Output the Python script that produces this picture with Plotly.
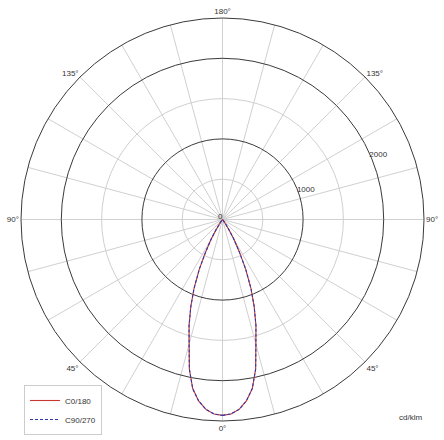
import plotly.graph_objects as go

# angulos gama (graus a partir do nadir) e intensidades em cd/klm
gama = [0, 2.5, 5, 7.5, 10, 12.5, 15, 17.5, 20, 22.5, 25, 27.5, 30, 32.5, 35, 40, 45,
        50, 60, 70, 80, 90, 105, 120, 135, 150, 165, 180]
c0_180 = [2430, 2415, 2365, 2270, 2130, 1900, 1600, 1380, 1150, 920, 680, 450, 280, 150, 60, 10, 0,
          0, 0, 0, 0, 0, 0, 0, 0, 0, 0, 0]
c90_270 = [2430, 2415, 2365, 2270, 2130, 1900, 1600, 1380, 1150, 920, 680, 450, 280, 150, 60, 10, 0,
           0, 0, 0, 0, 0, 0, 0, 0, 0, 0, 0]

# rotulos do eixo angular (0 em baixo, 180 em cima, simetrico)
ang_vals = list(range(0, 360, 15))
ang_text = {0: '0°', 45: '45°', 90: '90°', 135: '135°', 180: '180°',
            225: '135°', 270: '90°', 315: '45°'}
raio_fino = [0, 500, 1500]
raio_forte = [1000, 2000]
raio_max = 2500


def meia_volta(g, v):
    # lado direito (C0 / C90) e espelho no lado esquerdo (C180 / C270)
    theta = list(g) + [360 - a for a in reversed(g)]
    r = list(v) + list(reversed(v))
    return theta, r


fig = go.Figure()

# traco vazio so para a grade fina ser desenhada
fig.add_trace(go.Scatterpolar(theta=[], r=[], mode='lines', showlegend=False,
                              hoverinfo='skip', subplot='polar'))

t, r = meia_volta(gama, c0_180)
fig.add_trace(go.Scatterpolar(theta=t, r=r, mode='lines', name='C0/180',
                              line=dict(color='#c8372d', width=1.1), subplot='polar2'))
t, r = meia_volta(gama, c90_270)
fig.add_trace(go.Scatterpolar(theta=t, r=r, mode='lines', name='C90/270',
                              line=dict(color='#2f36b0', width=1.1, dash='3px,2px'),
                              subplot='polar2'))

dominio = dict(x=[21 / 444, 424 / 444], y=[19 / 440, 422 / 440])
fonte = dict(family='Liberation Sans, Arial', size=8, color='#333333')

# grade fina (cinza claro) + rotulo "0" no centro
fig.update_layout(polar=dict(
    domain=dominio,
    bgcolor='white',
    radialaxis=dict(range=[0, raio_max], tickvals=raio_fino, ticktext=['0', '', ''],
                    angle=180, tickangle=180, side='clockwise', tickfont=fonte,
                    showline=False, ticks='', gridcolor='#d0d0d0', gridwidth=0.8),
    angularaxis=dict(rotation=-90, direction='counterclockwise', tickvals=ang_vals,
                     showticklabels=False, ticks='', showline=False,
                     gridcolor='#d0d0d0', gridwidth=0.8),
))

# grade forte (aneis de 1000 em 1000) e rotulos
fig.update_layout(polar2=dict(
    domain=dominio,
    bgcolor='rgba(0,0,0,0)',
    radialaxis=dict(range=[0, raio_max], tickvals=raio_forte, ticktext=['1000', '2000'],
                    angle=26, tickangle=26, side='clockwise',
                    showline=False, ticks='', layer='below traces',
                    gridcolor='#3a3a3a', gridwidth=1, tickfont=fonte),
    angularaxis=dict(rotation=-90, direction='counterclockwise', tickvals=list(ang_text.keys()),
                     ticktext=list(ang_text.values()), showgrid=False, ticks='',
                     showline=True, linecolor='#3a3a3a', linewidth=1, tickfont=fonte,
                     layer='below traces'),
))

fig.update_layout(
    width=444, height=440,
    margin=dict(l=0, r=0, t=0, b=0),
    paper_bgcolor='white',
    showlegend=True,
    legend=dict(x=24 / 444, y=1 - 385 / 440, xanchor='left', yanchor='top',
                bordercolor='#cccccc', borderwidth=1, bgcolor='white',
                font=dict(family='Liberation Sans, Arial', size=8, color='#333333'),
                itemwidth=30, tracegroupgap=0),
    annotations=[dict(text='cd/klm', x=424 / 444, y=1 - 417 / 440, xref='paper', yref='paper',
                      xanchor='right', yanchor='middle', showarrow=False, font=fonte)],
)

# tira a margem do body para o grafico ficar no canto da janela
fig.write_html('out.html', config={'displayModeBar': False},
               post_script="document.body.style.margin='0px';")
